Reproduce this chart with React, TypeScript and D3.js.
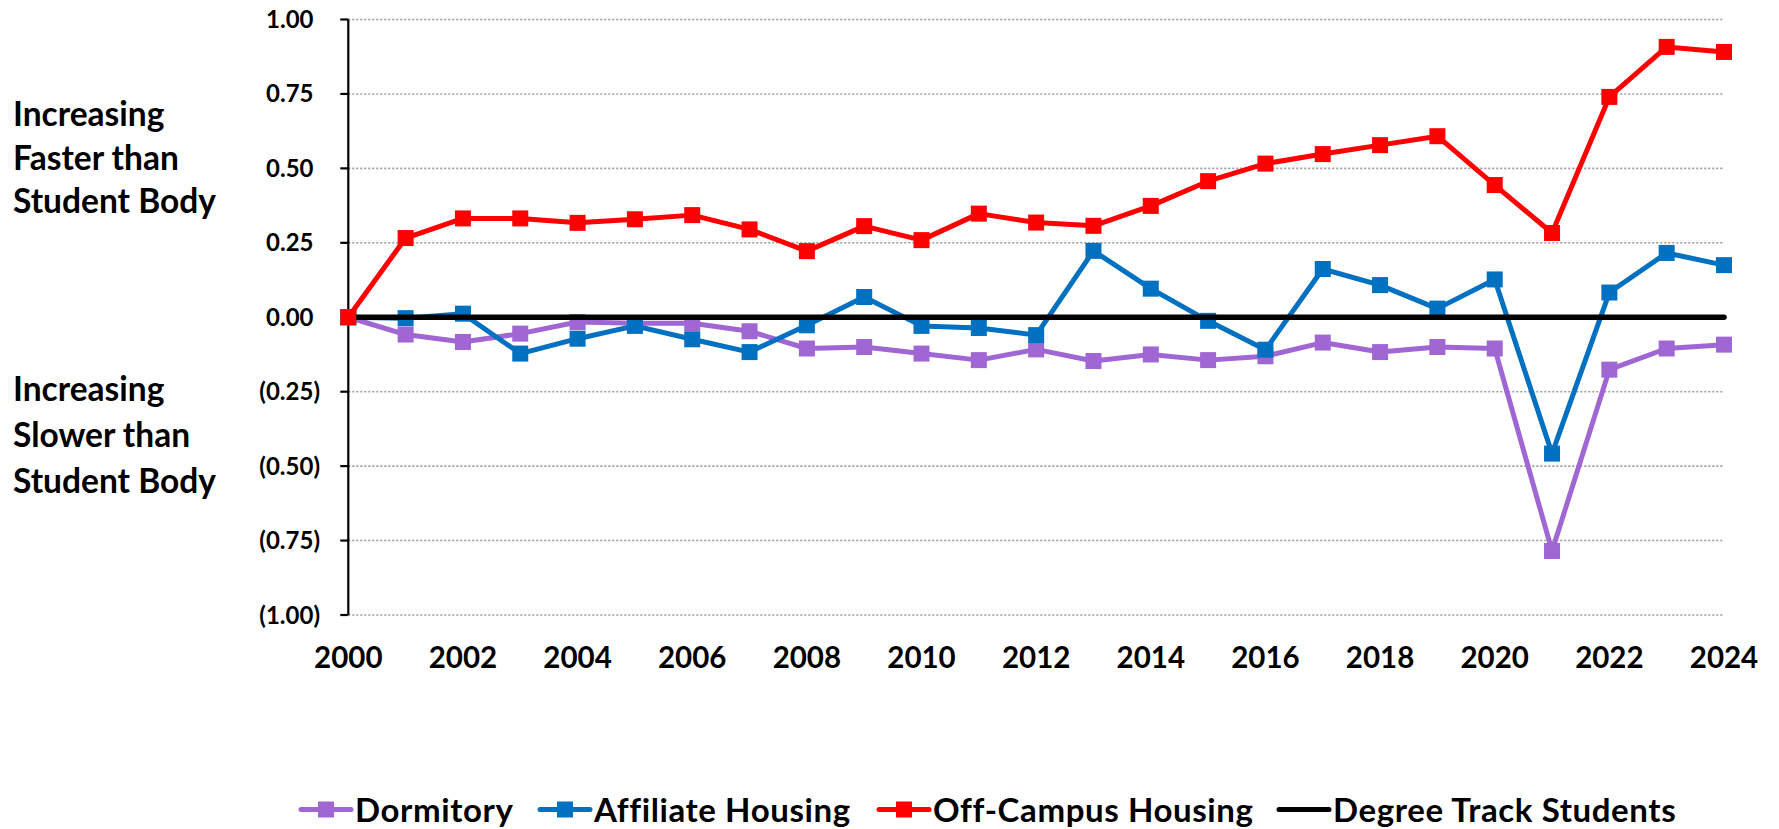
import React from "react";
import * as d3 from "d3";

const years = d3.range(2000, 2025);
const dormitory = [0, -0.058, -0.083, -0.055, -0.016, -0.02, -0.02, -0.047, -0.105, -0.1, -0.122, -0.144, -0.108, -0.147, -0.125, -0.144, -0.131, -0.085, -0.117, -0.1, -0.105, -0.785, -0.176, -0.105, -0.092];
const affiliate = [0, -0.003, 0.012, -0.122, -0.072, -0.029, -0.074, -0.117, -0.027, 0.068, -0.029, -0.036, -0.06, 0.223, 0.096, -0.012, -0.109, 0.162, 0.108, 0.029, 0.127, -0.458, 0.083, 0.216, 0.175];
const offCampus = [0, 0.266, 0.332, 0.332, 0.317, 0.329, 0.343, 0.295, 0.222, 0.306, 0.259, 0.348, 0.318, 0.307, 0.374, 0.457, 0.516, 0.548, 0.578, 0.608, 0.444, 0.283, 0.74, 0.908, 0.891];
const degreeTrack = years.map(() => 0);
const yTicks = [1, 0.75, 0.5, 0.25, 0, -0.25, -0.5, -0.75, -1];
const xTicks = d3.range(2000, 2025, 2);
const topNote = ["Increasing", "Faster than", "Student Body"];
const bottomNote = ["Increasing", "Slower than", "Student Body"];

const series = [
  { name: "Dormitory", values: dormitory, color: "#A066D3", markers: true, width: 5 },
  { name: "Affiliate Housing", values: affiliate, color: "#0070C0", markers: true, width: 5 },
  { name: "Degree Track Students", values: degreeTrack, color: "#000000", markers: false, width: 5.5 },
  { name: "Off-Campus Housing", values: offCampus, color: "#FF0000", markers: true, width: 5 },
];
const legendOrder = ["Dormitory", "Affiliate Housing", "Off-Campus Housing", "Degree Track Students"];
const legendX = [301, 540, 879, 1279];

const FONT = "Lato, 'Open Sans', sans-serif";

export default function App() {
  const W = 1779, H = 829;
  const x = d3.scaleLinear().domain([2000, 2024]).range([348.3, 1724]);
  const y = d3.scaleLinear().domain([-1, 1]).range([615, 19.5]);
  const line = d3.line<number>().x((_, i) => x(years[i])).y((d) => y(d));
  const fmt = (v: number) => {
    const s = d3.format(".2f")(Math.abs(v));
    return v < 0 ? `(${s})` : s;
  };
  const ms = 16;
  return (
    <svg width={W} height={H} style={{ position: "absolute", left: 0, top: 0, background: "#fff" }} fontFamily={FONT}>
      {yTicks.map((t) => (
        <line key={"g" + t} x1={x(2000)} x2={x(2024)} y1={y(t)} y2={y(t)} stroke="#9a9a9a" strokeWidth={1.6} strokeDasharray="2,2" />
      ))}
      <line x1={x(2000)} x2={x(2000)} y1={y(1)} y2={y(-1)} stroke="#000" strokeWidth={2.2} />
      {yTicks.map((t) => (
        <g key={"t" + t}>
          <line x1={x(2000) - 8} x2={x(2000)} y1={y(t)} y2={y(t)} stroke="#000" strokeWidth={2.2} />
          <text x={t < 0 ? 320 : 313.5} y={y(t) + 8.5} textAnchor="end" fontSize={24} fontWeight={700}>{fmt(t)}</text>
        </g>
      ))}
      {xTicks.map((t) => (
        <text key={"x" + t} x={x(t)} y={668} textAnchor="middle" fontSize={29.5} fontWeight={700}>{t}</text>
      ))}
      {topNote.map((s, i) => (
        <text key={"n1" + i} x={13} y={[126, 169.5, 213][i]} fontSize={33.5} fontWeight={700}>{s}</text>
      ))}
      {bottomNote.map((s, i) => (
        <text key={"n2" + i} x={13} y={[401, 447, 493][i]} fontSize={33.5} fontWeight={700}>{s}</text>
      ))}
      {series.map((s) => (
        <g key={s.name}>
          <path d={line(s.values) || ""} fill="none" stroke={s.color} strokeWidth={s.width} strokeLinejoin="round" strokeLinecap="round" />
          {s.markers &&
            s.values.map((v, i) => (
              <rect key={i} x={x(years[i]) - ms / 2} y={y(v) - ms / 2} width={ms} height={ms} fill={s.color} />
            ))}
        </g>
      ))}
      {legendOrder.map((name, i) => {
        const s = series.find((d) => d.name === name)!;
        const lx = legendX[i];
        return (
          <g key={"l" + name}>
            <line x1={lx} x2={lx + 50} y1={809.5} y2={809.5} stroke={s.color} strokeWidth={5} strokeLinecap="round" />
            {s.markers && <rect x={lx + 25 - 8} y={809.5 - 8} width={16} height={16} fill={s.color} />}
            <text x={lx + 54} y={822} fontSize={33} letterSpacing={0.6} fontWeight={700}>{name}</text>
          </g>
        );
      })}
    </svg>
  );
}
